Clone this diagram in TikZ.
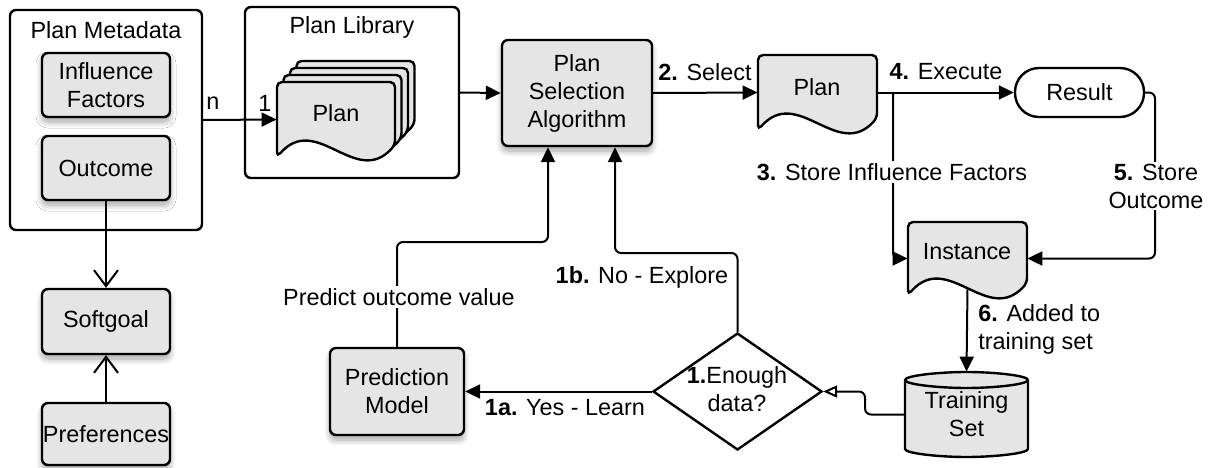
\documentclass[tikz,border=0pt]{standalone}
\usepackage{fontspec}
\setmainfont{Liberation Sans}
\usetikzlibrary{arrows.meta,shapes.geometric,shadows.blur}
\definecolor{boxgray}{RGB}{229,229,229}
\newcommand\mydoc[5]{%
  \path[#1] (#2,#5) -- (#2,#3) -- (#4,#3) -- (#4,{#5-12})
    .. controls ({#2+2*(#4-#2)/3},{#5+31}) and ({#2+(#4-#2)/3},{#5-45}) .. (#2,#5) -- cycle;}
\begin{document}
\begin{tikzpicture}[x=0.5pt,y=-0.5pt,
  font=\fontsize{11.7}{14}\selectfont,
  box/.style={draw, line width=1.2pt, fill=boxgray, rounded corners=3pt, align=center, inner sep=0pt,
    blur shadow={shadow xshift=0pt, shadow yshift=-2.5pt, shadow blur radius=3pt, shadow blur steps=8, shadow opacity=35}},
  container/.style={draw, line width=1.2pt, fill=white, rounded corners=3pt, inner sep=0pt},
  anchorbox/.style={inner sep=0pt, draw=none},
  docstyle/.style={draw, line width=1.2pt, fill=boxgray, rounded corners=2.5pt},
  conn/.style={draw, line width=1pt},
  arr/.style={conn, -{Triangle[length=7.5pt,width=7pt]}},
  barb/.style={conn, -{Straight Barb[length=8pt,width=12pt]}},
  opentri/.style={conn, -{Triangle[open,length=7pt,width=6pt,fill=white]}},
  lbl/.style={inner sep=1pt, align=center}]
\useasboundingbox (0,0) rectangle (1212,467);

% containers
\node[container, minimum width=96pt, minimum height=110pt] (meta) at (106,120) {};
\node[lbl] (metatitle) at (106,30) {Plan Metadata};
\node[container, minimum width=107pt, minimum height=85.5pt] (lib) at (352,92.5) {};
\node[lbl] (libtitle) at (352,27) {Plan Library};

% left column boxes
\node[box, minimum width=64pt, minimum height=32pt] (infl) at (106,85) {Influence\\Factors};
\node[box, minimum width=64pt, minimum height=32pt] (outc) at (106,168) {Outcome};
\node[box, minimum width=64pt, minimum height=32.5pt] (soft) at (106,321.5) {Softgoal};
\node[box, minimum width=64pt, minimum height=31pt] (pref) at (106,434) {Preferences};

% plan stack
\mydoc{docstyle}{296.5}{61}{414.5}{136}
\mydoc{docstyle}{290}{68}{408}{143}
\mydoc{docstyle}{283.5}{75}{401.5}{150}
\mydoc{docstyle}{277}{82}{395}{157}
\node[anchorbox, minimum width=59pt, minimum height=37.5pt] (planf) at (336,119.5) {};
\node[lbl] (planftxt) at (336,113) {Plan};

% central boxes
\node[box, minimum width=75pt, minimum height=53pt] (psa) at (577,93) {Plan\\Selection\\Algorithm};
\node[box, minimum width=67pt, minimum height=43.5pt] (pm) at (397,391.5) {Prediction\\Model};

% plan document
\mydoc{docstyle}{758}{55}{877}{130}
\node[anchorbox, minimum width=59.5pt, minimum height=37.5pt] (plan) at (817.5,92.5) {};
\node[lbl] (plantxt) at (817,87) {Plan};

% result
\node[draw, line width=1.2pt, fill=white, rounded corners=12pt, minimum width=64.5pt, minimum height=24.5pt] (res) at (1079.5,92.5) {Result};

% instance document
\mydoc{docstyle}{908}{222}{1027}{295}
\node[anchorbox, minimum width=59.5pt, minimum height=36.5pt] (inst) at (967.5,258.5) {};
\node[lbl] (insttxt) at (967,252) {Instance};

% training set cylinder
\path[draw, line width=1.2pt, fill=boxgray]
  (905,380) -- (905,449)
  .. controls (905,453.4) and (938.9,457) .. (966.5,457)
  .. controls (994.1,457) and (1028,453.4) .. (1028,449)
  -- (1028,380)
  .. controls (1028,375.6) and (994.1,372) .. (966.5,372)
  .. controls (938.9,372) and (905,375.6) .. (905,380) -- cycle;
\path[draw, line width=1.2pt]
  (905,380) .. controls (905,384.4) and (938.9,388) .. (966.5,388)
  .. controls (994.1,388) and (1028,384.4) .. (1028,380);
\node[anchorbox, minimum width=61.5pt, minimum height=42.5pt, align=center] (ts) at (966.5,414.5) {Training\\Set};

% decision
\node[draw, line width=1.2pt, fill=white, diamond, minimum width=84.5pt, minimum height=58.5pt, inner sep=0pt] (dec) at (737.5,391.5) {};
\node[lbl] (dectxt) at (737,389) {\textbf{1.}Enough\\data?};

% connectors
\draw[arr] (meta.east) -- (planf.west);
\node[lbl] (ln) at (213,103) {n};
\node[lbl] (l1) at (265,103) {1};
\draw[arr] (lib.east) -- (psa.west);
\draw[arr] (psa.east) -- (plan.west);
\node[lbl] (lsel) at (705,72) {\textbf{2.} Select};
\draw[arr] (plan.east) -- (res.west);
\node[lbl] (lexe) at (946,72) {\textbf{4.} Execute};
\coordinate (br) at (893,92.5);
\draw[arr, rounded corners=3pt] (br) -- (br |- inst.west) -- (inst.west);
\node[lbl, fill=white] (lstore) at (892,172) {\textbf{3.} Store Influence Factors};
\coordinate (c5) at (1155,92.5);
\draw[arr, rounded corners=3pt] (res.east) -- (c5) |- (inst.east);
\node[lbl, fill=white] (lout) at (1156,186) {\textbf{5.} Store\\Outcome};
\draw[arr] ([yshift=3pt]inst.south) -- (ts.north);
\node[lbl, anchor=west, align=left] (ladd) at (976,329) {\textbf{6.} Added to\\training set};
\coordinate (c8) at (865,391.5);
\draw[opentri, rounded corners=3pt] (ts.west) -| (c8) -- (dec.east);
\draw[arr] (dec.west) -- (pm.east);
\node[lbl] (lyes) at (565,408) {\textbf{1a.} Yes - Learn};
\coordinate (c10) at (737.5,253);
\coordinate (c10b) at (615,253);
\draw[arr, rounded corners=3pt] (dec.north) -- (c10) -- (c10b) -- (c10b |- psa.south);
\node[lbl] (lno) at (642,277) {\textbf{1b.} No - Explore};
\coordinate (c11) at (397,242);
\coordinate (c11b) at (548,242);
\draw[arr, rounded corners=3pt] (pm.north) -- (c11) -- (c11b) -- (c11b |- psa.south);
\node[lbl, fill=white] (lpred) at (399,297) {Predict outcome value};
\draw[barb] (outc.south) -- (soft.north);
\draw[barb] (pref.north) -- (soft.south);
\end{tikzpicture}
\end{document}
